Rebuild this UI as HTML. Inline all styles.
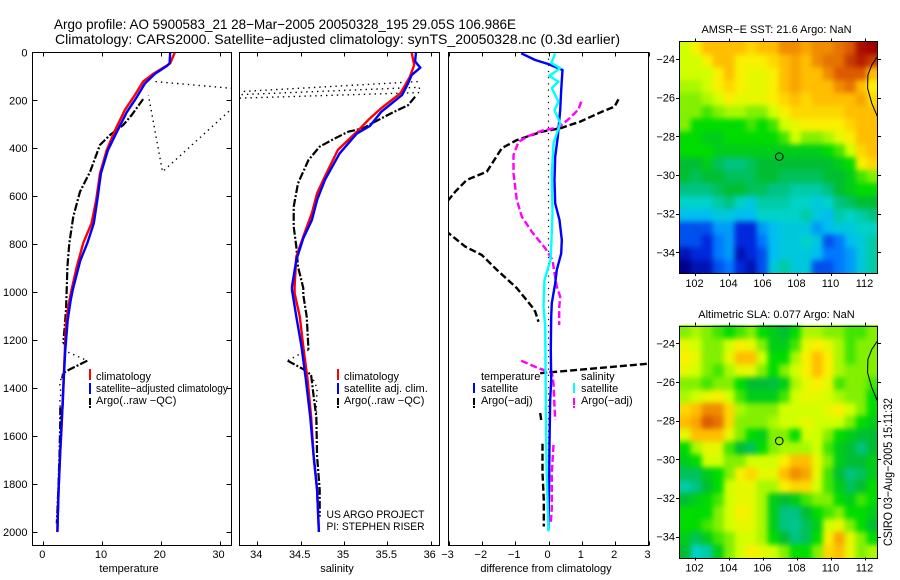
<!DOCTYPE html>
<html>
<head>
<meta charset="utf-8">
<title>Argo profile chart</title>
<style>
html,body{margin:0;padding:0;background:#fff;width:900px;height:580px;overflow:hidden}
svg{display:block}
text{font-family:"Liberation Sans",sans-serif;fill:#000;font-size:11px}
.title{font-size:14px}
</style>
</head>
<body>
<svg id="chart" xmlns="http://www.w3.org/2000/svg" width="900" height="580" viewBox="0 0 900 580">
  <defs>
    <clipPath id="clip-temp"><rect x="32" y="52" width="200" height="494"/></clipPath>
    <clipPath id="clip-sal"><rect x="239" y="52" width="201" height="494"/></clipPath>
    <clipPath id="clip-diff"><rect x="448" y="52" width="201" height="494"/></clipPath>
    <clipPath id="clip-sst"><rect x="679" y="41" width="199" height="233"/></clipPath>
    <clipPath id="clip-sla"><rect x="679" y="325" width="199" height="233"/></clipPath>
    <filter id="map-blur" filterUnits="userSpaceOnUse" x="640" y="0" width="260" height="580" color-interpolation-filters="sRGB"><feGaussianBlur stdDeviation="2.6"/></filter>
  </defs>
  <text class="title" x="54" y="29" textLength="462" lengthAdjust="spacingAndGlyphs">Argo profile: AO 5900583_21 28−Mar−2005 20050328_195 29.05S 106.986E</text>
  <text class="title" x="55" y="44" textLength="565" lengthAdjust="spacingAndGlyphs">Climatology: CARS2000. Satellite−adjusted climatology: synTS_20050328.nc (0.3d earlier)</text>
  <g id="plots"></g>
  <g id="legends">
    <g>
      <line x1="90" x2="90" y1="369" y2="380" stroke="#f00" stroke-width="2"/>
      <text x="96" y="380">climatology</text>
      <line x1="90" x2="90" y1="383" y2="394" stroke="#00f" stroke-width="2"/>
      <text x="96" y="392" textLength="132" lengthAdjust="spacingAndGlyphs">satellite−adjusted climatology</text>
      <line x1="90" x2="90" y1="398" y2="408" stroke="#000" stroke-width="2" stroke-dasharray="7 1 2"/>
      <text x="96" y="404">Argo(..raw −QC)</text>
    </g>
    <g>
      <line x1="338" x2="338" y1="369" y2="380" stroke="#f00" stroke-width="2"/>
      <text x="344" y="380">climatology</text>
      <line x1="338" x2="338" y1="383" y2="394" stroke="#00f" stroke-width="2"/>
      <text x="344" y="392">satellite adj. clim.</text>
      <line x1="338" x2="338" y1="398" y2="408" stroke="#000" stroke-width="2" stroke-dasharray="7 1 2"/>
      <text x="344" y="404">Argo(..raw −QC)</text>
      <text x="326.5" y="518" textLength="98" lengthAdjust="spacingAndGlyphs">US ARGO PROJECT</text>
      <text x="326.5" y="530" textLength="98" lengthAdjust="spacingAndGlyphs">PI: STEPHEN RISER</text>
    </g>
    <g>
      <text x="481" y="380">temperature</text>
      <line x1="474" x2="474" y1="383" y2="393" stroke="#00f" stroke-width="2"/>
      <text x="481" y="392">satellite</text>
      <line x1="474" x2="474" y1="398" y2="408" stroke="#000" stroke-width="2" stroke-dasharray="7 1 2"/>
      <text x="481" y="404">Argo(−adj)</text>
      <text x="581" y="380">salinity</text>
      <line x1="574" x2="574" y1="383" y2="393" stroke="#0ff" stroke-width="2"/>
      <text x="581" y="392">satellite</text>
      <line x1="574" x2="574" y1="398" y2="408" stroke="#f0f" stroke-width="2" stroke-dasharray="7 1 2"/>
      <text x="581" y="404">Argo(−adj)</text>
    </g>
  </g>
  <text x="129" y="572" text-anchor="middle" font-size="10.5">temperature</text>
  <text x="337" y="572" text-anchor="middle">salinity</text>
  <text x="546" y="572" text-anchor="middle">difference from climatology</text>
  <text x="776.5" y="33" text-anchor="middle">AMSR−E SST: 21.6 Argo: NaN</text>
  <text x="776.5" y="318" text-anchor="middle">Altimetric SLA: 0.077 Argo: NaN</text>
  <text transform="translate(892,546) rotate(-90)" textLength="148" lengthAdjust="spacingAndGlyphs" style="font-size:12px">CSIRO 03−Aug−2005 15:11:32</text>
</svg>
<script>
// ---------- axis ticks ----------
const depthTicks = [0, 200, 400, 600, 800, 1000, 1200, 1400, 1600, 1800, 2000];
const tempTicks = [0, 10, 20, 30];
const salTicks = [34, 34.5, 35, 35.5, 36];
const diffTicks = [-3, -2, -1, 0, 1, 2, 3];
const lonTicks = [102, 104, 106, 108, 110, 112];
const latTicks = [-24, -26, -28, -30, -32, -34];

// ---------- temperature panel ----------
const tempClimDepth = [0, 46, 56, 90, 122, 178, 240, 325, 408, 505, 616, 713, 796, 894, 991, 1060, 1130, 1227, 1337, 1449, 1574, 1686, 1824, 1935, 2000];
const tempClim = [22.4, 21.6, 21.0, 18.7, 17.0, 15.6, 13.9, 12.2, 10.8, 9.66, 9.0, 8.2, 6.8, 5.7, 4.8, 4.26, 3.87, 3.7, 3.5, 3.3, 3.1, 2.85, 2.6, 2.45, 2.4];
const tempSatDepth = [0, 46, 56, 90, 130, 187, 250, 333, 408, 505, 616, 713, 796, 868, 991, 1033, 1116, 1240, 1350, 1465, 1574, 1686, 1824, 2000];
const tempSat = [21.6, 21.5, 21.1, 19, 17.3, 15.9, 14.2, 12.5, 11, 9.8, 9.2, 8.6, 7.5, 6.3, 5, 4.67, 4.15, 3.75, 3.5, 3.3, 3.05, 2.85, 2.6, 2.4];
const tempRawDepth = [122, 152, 215, 498, 178, null, 1212, 1248, 1286, null, 1340, 1380, 1420, 1460, 1500, 1560];
const tempRaw = [19.1, 33, 33, 20.3, 17.9, null, 3.4, 4, 7.5, null, 3.3, 2.8, 3.0, 2.8, 3.0, 2.9];
const tempQcDepth = [195, 261, 303, 345, 386, 498, 581, 685, 796, 894, 977, 1074, 1130, 1212, null, 1286, 1325, 1337, 1360, null, 1480, 1540, 1680, 1824, 1965];
const tempQc = [17, 15.06, 13.6, 11.36, 9.66, 7.96, 6.25, 5.1, 4.43, 4.1, 4, 3.87, 3.7, 3.4, null, 7.5, 4.26, 3.4, 3.2, null, 2.9, 2.9, 2.75, 2.55, 2.3];

// ---------- salinity panel ----------
const salClimDepth = [0, 53, 102, 171, 233, 282, 324, 407, 518, 588, 670, 768, 852, 977, 1005, 1102, 1227, 1366, 1519, 1686, 1824, 2000];
const salClim = [35.78, 35.81, 35.76, 35.65, 35.43, 35.28, 35.17, 34.93, 34.78, 34.69, 34.63, 34.53, 34.45, 34.43, 34.43, 34.49, 34.53, 34.58, 34.62, 34.65, 34.69, 34.71];
const salSatDepth = [0, 38, 64, 95, 129, 178, 248, 307, 338, 421, 532, 616, 699, 775, 866, 977, 991, 1102, 1227, 1366, 1519, 1686, 1824, 2000];
const salSat = [35.83, 35.82, 35.88, 35.78, 35.74, 35.67, 35.43, 35.3, 35.15, 34.95, 34.78, 34.69, 34.63, 34.53, 34.45, 34.4, 34.4, 34.45, 34.51, 34.56, 34.61, 34.65, 34.69, 34.71];
const salRawDepth = [122, 166, 178, 146, 168, 192, null, 1241, 1262, 1286, null, 1345, 1400, 1480, 1560];
const salRaw = [35.85, 33.7, 33.7, 35.87, 35.87, 33.7, null, 34.59, 34.47, 34.35, null, 34.62, 34.69, 34.68, 34.69];
const salQcDepth = [185, 220, 253, 289, 317, 331, 358, 393, 449, 546, 644, 727, 810, 894, 983, 1012, 1102, 1241, null, 1286, 1325, 1345, 1436, 1519, 1686, 1824, 1936];
const salQc = [35.82, 35.74, 35.55, 35.36, 35.22, 35.05, 34.9, 34.72, 34.59, 34.47, 34.42, 34.42, 34.45, 34.47, 34.53, 34.53, 34.57, 34.59, null, 34.35, 34.55, 34.62, 34.65, 34.68, 34.69, 34.72, 34.72];

// ---------- difference panel ----------
const diffDepthRef = [0, 2000];
const diffZero = [0, 0];
const diffTempSatDepth = [4, 32, 49, 74, 157, 241, 352, 435, 532, 630, 699, 782, 839, 907, 963, 1046, 1102, 1241, 1366, 1449, 1629, 1769, 1991];
const diffTempSat = [-0.82, -0.4, 0, 0.42, 0.38, 0.35, 0.28, 0.2, 0.18, 0.2, 0.33, 0.4, 0.38, 0.25, 0.2, 0.1, 0.08, 0.07, 0.08, 0.05, 0.03, 0.02, 0];
const diffSalSatDepth = [4, 45, 66, 99, 122, 149, 206, 241, 296, 380, 505, 672, 811, 866, 949, 1060, 1144, 1449, 1727, 1998];
const diffSalSat = [0.2, 0.08, 0.35, 0.02, 0.3, 0.1, 0.3, 0.18, 0.35, 0.15, 0.1, 0.12, 0.08, 0.06, -0.12, -0.15, -0.1, -0.08, -0.06, 0];
const diffTempArgoDepth = [196, 227, 248, 289, 317, 331, 366, 400, 498, 532, 581, 616, 650, null, 741, 754, 810, 845, 907, 983, 1060, 1081, 1123, null, 1338, 1297, null, 1504, 1533, null, 1632, 1754, 1866, 1977];
const diffTempArgo = [2.1, 1.98, 1.6, 0.95, 0.35, -0.2, -0.95, -1.4, -1.85, -2.45, -2.8, -3, -3.5, null, -3.4, -3, -2.5, -2, -1.55, -0.95, -0.5, -0.4, -0.3, null, -0.25, 3.1, null, -0.25, -0.22, null, -0.18, -0.18, -0.14, -0.14];
const diffSalArgoDepth = [206, 238, 279, 313, 327, 349, 373, 428, 505, 616, 685, 748, 817, 866, 921, 977, 1019, 1066, 1137, null, 1286, 1317, 1336, 1380, 1477, 1533, null, 1637, 1755, 1901, 1963];
const diffSalArgo = [0.98, 0.9, 0.6, 0.3, -0.2, -0.6, -0.9, -1.05, -1.05, -0.95, -0.8, -0.5, -0.1, 0.12, 0.18, 0.25, 0.35, 0.32, 0.32, null, -0.82, -0.3, 0.1, 0.15, 0.18, 0.2, null, 0.15, 0.1, 0.1, 0.07];

// ---------- map fields (colour level per cell, north to south, west to east) ----------
const sstField = [
[9,10,11,11,11,11,10.5,11,11,12,12,11.5,12,12,12.5,13,14.5,15],
[9,9,10,11,11,10,10,10,10.5,11,11.5,11,12,12.5,12.5,13.5,14,13.5],
[9,9,9,10,11,10,9.5,9.5,10,11,11.5,11,11,12,13,13,13,11],
[8.5,8.5,9,10,10.5,10,9.5,9.5,10,11,11.5,11,11,11,12,12.5,11,10],
[8,8,8.5,9,10,9.5,9.5,9.5,10,10.5,11,10.5,11,11,11,11,11.5,10.5],
[8,8,7.5,8,8.5,8.5,8,8,9,10,10.5,10.5,10.5,10.5,10.5,11,11,11],
[8,7,7,7,7,7,7.5,7,7.5,9,9.5,10,10,10,10,10.5,11,11],
[7,7,6.5,6.5,7,7,7,7,7,7.5,9,8,8,8.5,9.5,10,11,11],
[7,7,7,6.5,6.5,6.5,6.5,6.5,6.5,6.5,6.5,6.5,6.5,7,7.5,9,10.5,11],
[6,6,6.5,5.5,5,5,5.5,6,6,6,6,6,6,6,6.5,7,10,10.5],
[6,5.5,6,6,5.5,5.5,5.5,6,6,5.5,5.5,5.5,5.5,6,6,6.5,7.5,8],
[5,5,5,5.5,6,6,5.5,5.5,5,5,4.5,4.5,4.5,5,6,6.5,7,7],
[4,4,4,4.5,5,4,3.5,4.5,4.5,4.5,4,4,3.5,4,5,5.5,6,6],
[3,3,3,3.5,3.5,3,3,4,4,4,4,4.5,3.5,3,4.5,4,4.5,5],
[1.5,1.5,1.5,2.5,2.5,1,1,2.5,3,3.5,3.5,3.5,2.5,3,3.5,3.5,4,4],
[1.5,1.5,1,2,2.5,1,1,2,3,3.5,3.5,4,3.5,1.5,2,3,3.5,4.5],
[0.5,1,1,2,2.5,0.5,1,1.5,3,3.5,3.5,3.5,3,2,2,2.5,3.5,4.5],
[0,0.5,0.5,1.5,2,1,0.5,1.5,3.5,4.5,3.5,3.5,1.5,1.5,2,2.5,3.5,4.5]
];
const slaField = [
[8,8.5,8,7.5,7,7.5,8,7,6.5,6,7,8.5,8.5,8,8,7.5,7.5,8],
[9.5,9,8,8,9,10,9.5,8,6.5,6.5,7.5,9.5,10,9.5,8.5,7.5,8,8],
[10,9.5,8,8,9.5,11,11,9,7,7,8.5,10,11,10,8.5,7.5,8,8],
[9.5,9,8,7.5,8.5,9.5,9.5,8,7,8,9,10,11,10,8.5,8,8,8],
[8,8,7.5,8,8,7,6,6,5.8,6.5,8.5,9.5,10,9.5,7.5,8,8,7.5],
[8.5,9,9.5,10,9,7.5,6.5,6.5,6.5,7.5,9,9.5,9.5,9,8.5,8,8,7],
[10.5,11,12,12,10.5,8.5,8,8,8,9,9,9,9,9.5,10,9,8,7],
[11,11.5,13,12.5,10.5,8,8,8,8.5,9,9,9.5,9,9,9,8,7,6.5],
[9.5,11,11,11,9.5,8,7,6.5,8,8,7,9,9,8,7,6.5,6,6],
[7,8.5,9.5,9.5,7.5,6,5.5,7,8,8.5,8.5,8.5,9,7.5,6.5,6,5,6],
[6.5,7,9,9,8,8,9,9,9,10,11,11,9.5,8,6.5,6,6,6.5],
[5.5,5.5,6.5,7,8,10,10.5,9.5,9.5,11,12,11.5,9.5,7.5,6,5,5.5,6.5],
[4.5,5,6,7,9,9.5,9.5,8.5,8.5,10,10.5,10.5,9,7.5,6.5,5.5,6,7],
[6,6.5,7,7.5,9,9.5,9.5,8.5,6.5,6,6.5,7.5,8,8,7,6.5,7.5,7],
[7,7,7,8,9,10,9.5,8.5,6.5,5,5,6,7,7.5,8,7,7,6.5],
[7,7,7.5,8,9,9.5,9.5,8.5,6.5,5,4.8,5.5,6.5,9,9.5,8,7,6],
[6.5,5.5,6.5,7.5,8,9,9,8.5,7,6,5,5.5,7,10,11.5,9.5,8,7],
[6,4,4.5,6.5,8,9,10,9.5,9,8,7,7,8,10.5,11,9.5,8,8.5]
];
const coastLon = [112.76, 112.43, 112.2, 112.18, 112.43, 112.76];
const coastLat = [-23.88, -24.31, -24.83, -25.52, -26.29, -26.98];
const floatLon = [106.986];
const floatLat = [-29.05];

const palette = ["#00008c","#0028dc","#0078ff","#00bef0","#00d2c8","#00c382","#00be32","#00dc00","#82f000","#d2ff00","#faf000","#ffbe00","#f08c00","#dc5a00","#b41e00","#a00000"];

// ---------- helpers ----------
const NS = "http://www.w3.org/2000/svg";
const plots = document.getElementById("plots");

function add(tag, attrs, name, parent) {
  const el = document.createElementNS(NS, tag);
  Object.keys(attrs).forEach(function (k) { el.setAttribute(k, attrs[k]); });
  
  
  parent.appendChild(el);
  return el;
}
function scale(d0, d1, p0, p1) {
  return function (v) { return p0 + (v - d0) * (p1 - p0) / (d1 - d0); };
}
function minusText(v) {
  return String(v).replace("-", "\u2212");
}
function tracePath(xs, ys, sx, sy) {
  let d = "", pen = false;
  for (let i = 0; i < xs.length; i++) {
    if (xs[i] === null || ys[i] === null) { pen = false; continue; }
    d += (pen ? "L" : "M") + sx(xs[i]).toFixed(1) + " " + sy(ys[i]).toFixed(1);
    pen = true;
  }
  return d;
}
function levelColor(level) {
  const clamped = Math.max(0, Math.min(palette.length - 1, level));
  const i = Math.floor(clamped), f = clamped - i;
  const a = palette[i], b = palette[Math.min(i + 1, palette.length - 1)];
  let out = "#";
  for (let c = 1; c < 7; c += 2) {
    const va = parseInt(a.substr(c, 2), 16), vb = parseInt(b.substr(c, 2), 16);
    out += Math.round(va + (vb - va) * f).toString(16).padStart(2, "0");
  }
  return out;
}

// ---------- profile panels ----------
const depthToY = scale(0, 2000, 52.3, 532);
function drawPanel(cfg) {
  const g = add("g", {}, cfg.name, plots);
  const L = cfg.left, R = cfg.right, T = 52.5, B = 545.5;
  const sx = cfg.sx;
  const marks = add("g", { "clip-path": "url(#" + cfg.clip + ")" }, cfg.name + "-series", g);
  cfg.series.forEach(function (s) {
    const attrs = { d: tracePath(s.values, s.depths, sx, depthToY), fill: "none", stroke: s.color, "stroke-width": s.width, "stroke-linejoin": "round" };
    if (s.dash) { attrs["stroke-dasharray"] = s.dash; }
    add("path", attrs, s.name, marks);
  });
  add("rect", { x: L, y: T, width: R - L, height: B - T, fill: "none", stroke: "#000", "stroke-width": 1, "shape-rendering": "crispEdges" }, cfg.name + "-frame", g);
  cfg.ticks.forEach(function (t) {
    const x = Math.round(sx(t)) + 0.5;
    add("line", { x1: x, x2: x, y1: B, y2: B - 4, stroke: "#000", "shape-rendering": "crispEdges" }, "x-tick-bottom", g);
    add("line", { x1: x, x2: x, y1: T, y2: T + 4, stroke: "#000", "shape-rendering": "crispEdges" }, "x-tick-top", g);
    const lab = add("text", { x: sx(t) - 1, y: 558, "text-anchor": "middle" }, "x-tick-label", g);
    lab.textContent = minusText(t);
  });
  if (cfg.depthAxis) {
    depthTicks.forEach(function (t) {
      const y = Math.round(depthToY(t)) + 0.5;
      add("line", { x1: L, x2: L + 5, y1: y, y2: y, stroke: "#000", "shape-rendering": "crispEdges" }, "y-tick-left", g);
      add("line", { x1: R, x2: R - 5, y1: y, y2: y, stroke: "#000", "shape-rendering": "crispEdges" }, "y-tick-right", g);
      const lab = add("text", { x: 27.5, y: depthToY(t) + 4, "text-anchor": "end" }, "y-tick-label", g);
      lab.textContent = t;
    });
  }
}

drawPanel({
  name: "temperature-panel", clip: "clip-temp", left: 32.5, right: 231.5, depthAxis: true,
  sx: scale(0, 30, 43.3, 219.5), ticks: tempTicks,
  series: [
    { name: "temperature-argo-raw", values: tempRaw, depths: tempRawDepth, color: "#000", width: 1.4, dash: "1.4 4" },
    { name: "temperature-argo-qc", values: tempQc, depths: tempQcDepth, color: "#000", width: 2.2, dash: "8 2 2 2" },
    { name: "temperature-climatology", values: tempClim, depths: tempClimDepth, color: "#f00", width: 2.4 },
    { name: "temperature-satellite", values: tempSat, depths: tempSatDepth, color: "#00f", width: 2.4 }
  ]
});
drawPanel({
  name: "salinity-panel", clip: "clip-sal", left: 239.5, right: 439.5, depthAxis: false,
  sx: scale(34, 36, 257.3, 430.7), ticks: salTicks,
  series: [
    { name: "salinity-argo-raw", values: salRaw, depths: salRawDepth, color: "#000", width: 1.4, dash: "1.4 4" },
    { name: "salinity-argo-qc", values: salQc, depths: salQcDepth, color: "#000", width: 2.2, dash: "8 2 2 2" },
    { name: "salinity-climatology", values: salClim, depths: salClimDepth, color: "#f00", width: 2.4 },
    { name: "salinity-satellite", values: salSat, depths: salSatDepth, color: "#00f", width: 2.4 }
  ]
});
drawPanel({
  name: "difference-panel", clip: "clip-diff", left: 448.5, right: 648.5, depthAxis: false,
  sx: scale(-3, 3, 448.5, 648.5), ticks: diffTicks,
  series: [
    { name: "zero-reference-line", values: diffZero, depths: diffDepthRef, color: "#000", width: 1.2, dash: "1.2 5" },
    { name: "difference-temp-argo", values: diffTempArgo, depths: diffTempArgoDepth, color: "#000", width: 2.4, dash: "7 3" },
    { name: "difference-sal-argo", values: diffSalArgo, depths: diffSalArgoDepth, color: "#f0f", width: 2.4, dash: "7 3" },
    { name: "difference-temp-satellite", values: diffTempSat, depths: diffTempSatDepth, color: "#00f", width: 2.4 },
    { name: "difference-sal-satellite", values: diffSalSat, depths: diffSalSatDepth, color: "#0ff", width: 2.4 }
  ]
});

// ---------- maps ----------
const lonToX = scale(102, 112, 694.5, 864.5);
const LON_MIN = 101.13, LON_MAX = 112.78, LAT_TOP = -23.09, LAT_BOTTOM = -35.08;
function drawMap(cfg) {
  const g = add("g", {}, cfg.name, plots);
  const latToY = scale(-24, -34, cfg.y24, cfg.y34);
  const clipped = add("g", { "clip-path": "url(#" + cfg.clip + ")" }, cfg.name + "-field", g);
  const cells = add("g", { filter: "url(#map-blur)" }, cfg.name + "-cells", clipped);
  const rows = cfg.field.length, cols = cfg.field[0].length;
  const dLon = (LON_MAX - LON_MIN) / cols, dLat = (LAT_BOTTOM - LAT_TOP) / rows;
  const bleed = 14; // outer cells run past the clip so the smoothing keeps full colour at the frame
  cfg.field.forEach(function (row, r) {
    row.forEach(function (v, c) {
      let x0 = lonToX(LON_MIN + c * dLon), x1 = lonToX(LON_MIN + (c + 1) * dLon);
      let y0 = latToY(LAT_TOP + r * dLat), y1 = latToY(LAT_TOP + (r + 1) * dLat);
      if (c === 0) { x0 -= bleed; }
      if (c === cols - 1) { x1 += bleed; }
      if (r === 0) { y0 -= bleed; }
      if (r === rows - 1) { y1 += bleed; }
      add("rect", { x: x0, y: y0, width: x1 - x0 + 0.5, height: y1 - y0 + 0.5, fill: levelColor(v) }, "map-cell", cells);
    });
  });
  add("path", { d: tracePath(coastLon, coastLat, lonToX, latToY), fill: "none", stroke: "#000", "stroke-width": 1 }, "coastline", clipped);
  add("circle", { cx: lonToX(floatLon[0]), cy: latToY(floatLat[0]), r: 3.8, fill: "none", stroke: "#000", "stroke-width": 1 }, "float-position-marker", clipped);
  const top = latToY(LAT_TOP), bot = latToY(LAT_BOTTOM);
  add("rect", { x: 679.5, y: Math.round(top) + 0.5, width: 198, height: Math.round(bot) - Math.round(top), fill: "none", stroke: "#000", "shape-rendering": "crispEdges" }, cfg.name + "-frame", g);
  lonTicks.forEach(function (t) {
    const x = Math.round(lonToX(t)) + 0.5;
    add("line", { x1: x, x2: x, y1: top, y2: top - 3, stroke: "#000", "shape-rendering": "crispEdges" }, "lon-tick-top", g);
    add("line", { x1: x, x2: x, y1: bot, y2: bot + 3, stroke: "#000", "shape-rendering": "crispEdges" }, "lon-tick-bottom", g);
    const lab = add("text", { x: lonToX(t), y: bot + 14, "text-anchor": "middle" }, "lon-tick-label", g);
    lab.textContent = t;
  });
  latTicks.forEach(function (t) {
    const y = Math.round(latToY(t)) + 0.5;
    add("line", { x1: 679, x2: 676, y1: y, y2: y, stroke: "#000", "shape-rendering": "crispEdges" }, "lat-tick-left", g);
    add("line", { x1: 878, x2: 881, y1: y, y2: y, stroke: "#000", "shape-rendering": "crispEdges" }, "lat-tick-right", g);
    const lab = add("text", { x: 675, y: latToY(t) + 4, "text-anchor": "end" }, "lat-tick-label", g);
    lab.textContent = minusText(t);
  });
}
drawMap({ name: "sst-map", clip: "clip-sst", field: sstField, y24: 59, y34: 252.3 });
drawMap({ name: "sla-map", clip: "clip-sla", field: slaField, y24: 343.3, y34: 536.7 });
</script>
</body>
</html>
